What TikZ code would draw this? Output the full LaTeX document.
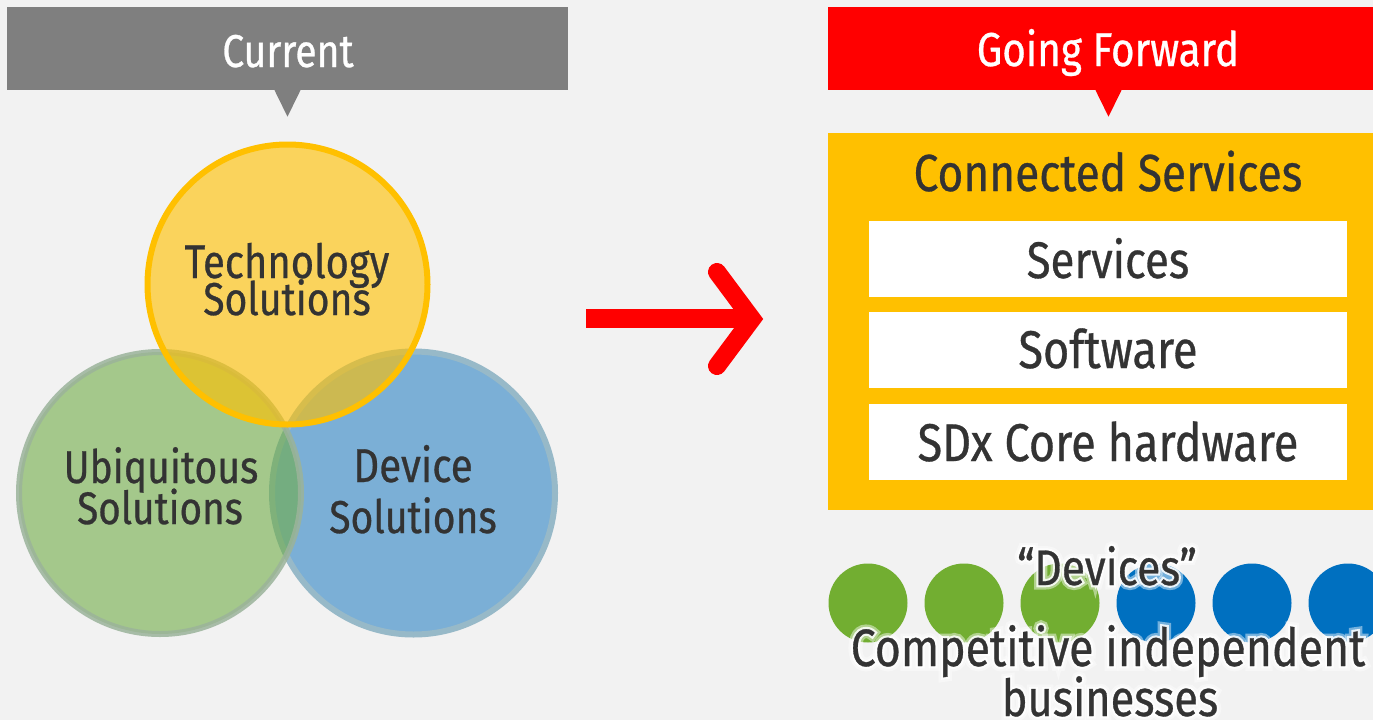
\documentclass[tikz,border=0pt]{standalone}
\usepackage{fontspec}
\setmainfont{Fira Sans}[FakeStretch=0.85, FakeBold=0.6]
\newfontfamily\glowouter{Fira Sans}[FakeStretch=0.85, FakeBold=18]
\newfontfamily\glowinner{Fira Sans}[FakeStretch=0.85, FakeBold=9]
\usetikzlibrary{calc}
\definecolor{bg}{HTML}{F2F2F2}
\definecolor{bannergray}{HTML}{7F7F7F}
\definecolor{fjred}{HTML}{FF0000}
\definecolor{fjyellow}{HTML}{FFC000}
\definecolor{txt}{HTML}{333333}
\definecolor{vblue}{HTML}{7BAFD6}
\definecolor{vbluebord}{HTML}{97B9C8}
\definecolor{vgreen}{HTML}{70AD47}
\definecolor{vgreenbord}{HTML}{9BB39A}
\definecolor{dotgreen}{HTML}{72AE31}
\definecolor{dotblue}{HTML}{0070C0}
\newcommand{\fs}[1]{\fontsize{#1}{#1}\selectfont}
\tikzset{
  lbl/.style={anchor=base, inner sep=0pt, text=txt},
  wlbl/.style={anchor=base, inner sep=0pt, text=white},
  layerbox/.style={fill=white, draw=none, minimum width=478pt, minimum height=76pt, inner sep=0pt},
  bannerbox/.style={minimum width=561pt, minimum height=83pt, inner sep=0pt, draw=none},
  dot/.style={circle, minimum size=79pt, inner sep=0pt, draw=none},
}
\newcommand{\glowtext}[5][]{% [opts], name, position, size, text
  \node[anchor=base, inner sep=0pt, text=white, text opacity=0.45, #1] (#2o) at #3 {\glowouter\fs{#4}#5};
  \node[anchor=base, inner sep=0pt, text=white, text opacity=0.85, #1] (#2i) at #3 {\glowinner\fs{#4}#5};
  \node[lbl, #1] (#2) at #3 {\fs{#4}#5};
}
\begin{document}
\begin{tikzpicture}[x=1pt,y=-1pt]
\useasboundingbox (0,0) rectangle (1373,720);
\clip (0,0) rectangle (1373,720);
\fill[bg] (0,0) rectangle (1373,720);

% ---- Current banner
\node[bannerbox, fill=bannergray] (curb) at (287.5,48.5) {};
\fill[bannergray] ($(curb.south)+(-13,0)$) -- ($(curb.south)+(13,0)$) -- ($(curb.south)+(0,26.5)$) -- cycle;
\node[wlbl] (curt) at (288,67) {\fs{46}Current};

% ---- Going forward banner
\node[bannerbox, fill=fjred] (gfb) at (1108.5,48.5) {};
\fill[fjred] ($(gfb.south)+(-13,0)$) -- ($(gfb.south)+(13,0)$) -- ($(gfb.south)+(0,26.5)$) -- cycle;
\node[wlbl] (gft) at (1108,66) {\fs{47.5}Going Forward};

% ---- Venn diagram
\fill[vblue] (413.5,493) circle (141.5);
\draw[vbluebord, line width=6pt] (413.5,493) circle (141.5);
\fill[vgreen, fill opacity=0.6] (160,493) circle (141);
\draw[vgreenbord, line width=6pt, opacity=0.85] (160,493) circle (141);
\fill[fjyellow, fill opacity=0.62] (287.5,284.5) circle (140);
\draw[fjyellow, line width=6pt] (287.5,284.5) circle (140);

\node[lbl, text depth=0pt] (tech1) at (287,278) {\fs{47}Technology};
\node[lbl] (tech2) at (287,315) {\fs{46}Solutions};
\node[lbl, text depth=0pt] (ubi1) at (161,483) {\fs{46}Ubiquitous};
\node[lbl] (ubi2) at (160,524) {\fs{45.5}Solutions};
\node[lbl] (dev1) at (413,482) {\fs{47.5}Device};
\node[lbl] (dev2) at (413,533) {\fs{46}Solutions};

% ---- Arrow
\coordinate (arrA) at (586,318.5);
\coordinate (arrB) at (748,318.5);
\draw[fjred, line width=19pt] (arrA) -- (arrB);
\draw[fjred, line width=18pt, line cap=round, line join=miter] (717,272) -- (752,319) -- (717,366);

% ---- Connected services block
\fill[fjyellow] (828,133) rectangle (1388,510);
\node[lbl] (cs) at (1108,191) {\fs{52}Connected Services};
\node[layerbox] (l1) at (1108,259) {};
\node[layerbox] (l2) at (1108,350) {};
\node[layerbox] (l3) at (1108,441.5) {};
\node[lbl] (l1t) at (1108,278) {\fs{51.4}Services};
\node[lbl] (l2t) at (1108,368) {\fs{53}Software};
\node[lbl] (l3t) at (1108,461) {\fs{53}SDx Core hardware};

% ---- Device dots
\node[dot, fill=dotgreen] (d1) at (868,603) {};
\node[dot, fill=dotgreen] (d2) at (964,603) {};
\node[dot, fill=dotgreen] (d3) at (1060,603) {};
\node[dot, fill=dotblue] (d4) at (1156,603) {};
\node[dot, fill=dotblue] (d5) at (1252,603) {};
\node[dot, fill=dotblue] (d6) at (1348,603) {};

\glowtext{devq}{(1107,585)}{50}{“Devices”}
\glowtext{comp}{(1108,666)}{52.5}{Competitive independent}
\glowtext[text depth=0pt]{bus}{(1110,716)}{51}{businesses}
\end{tikzpicture}
\end{document}
